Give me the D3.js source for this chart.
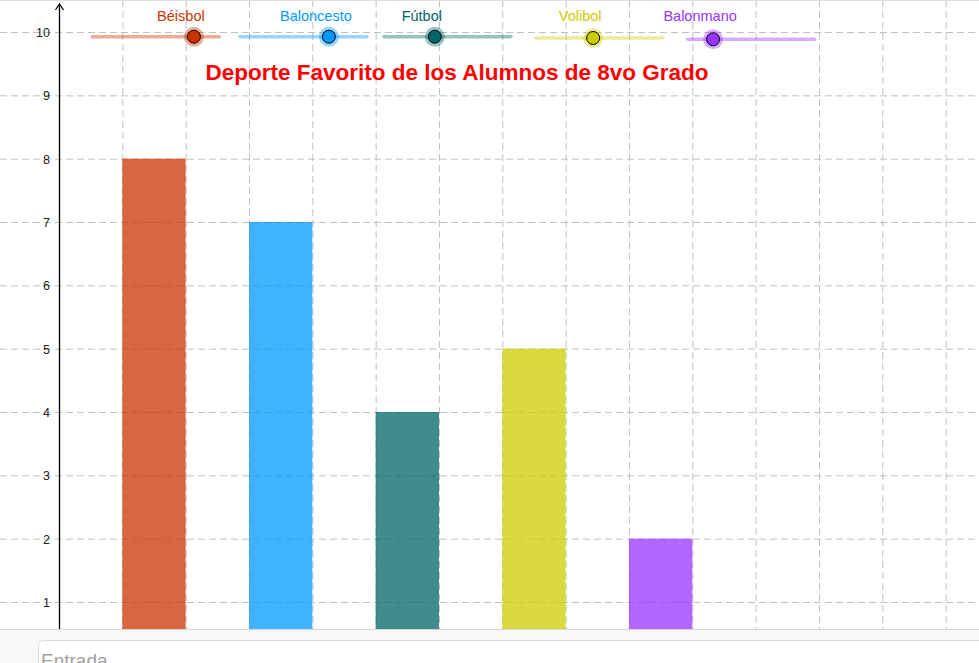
<!DOCTYPE html>
<html>
<head>
<meta charset="utf-8">
<script src="https://cdn.jsdelivr.net/npm/d3@7"></script>
<style>
  html, body { margin: 0; padding: 0; background: #fff; overflow: hidden; }
  svg { display: block; font-family: "Liberation Sans", Arial, sans-serif; }
</style>
</head>
<body>
<div id="chart"></div>
<script>
// data
const sports = ["Béisbol", "Baloncesto", "Fútbol", "Volibol", "Balonmano"];
const votes = [8, 7, 4, 5, 2];
const sliderValues = [8, 7, 4, 4.5, 2];
const colors = ["#cc3300", "#0099ff", "#006666", "#cccc00", "#9933ff"];
const yTicks = [1, 2, 3, 4, 5, 6, 7, 8, 9, 10];
const title = "Deporte Favorito de los Alumnos de 8vo Grado";

const W = 979, H = 663;
const VIEW_BOTTOM = 629;
const UNIT = 63.33;
const ORIGIN = {x: 59, y: 665.3};

// slider placement on screen (GeoGebra sliders are fixed to the screen)
const SLIDER_X = [92.3, 240, 384, 536, 687.7];
const SLIDER_Y = [36.7, 36.7, 36.7, 38, 39.3];
const SLIDER_W = 127;

const svg = d3.select("#chart")
    .append("svg")
        .attr("width", W)
        .attr("height", H);

const x = d3.scaleLinear()
    .domain([0, 1])
    .range([ORIGIN.x, ORIGIN.x + UNIT]);

const y = d3.scaleLinear()
    .domain([0, 1])
    .range([ORIGIN.y, ORIGIN.y - UNIT]);

const view = svg.append("g");

// clip to the graphics view
svg.append("defs").append("clipPath")
    .attr("id", "viewClip")
  .append("rect")
    .attr("x", 0).attr("y", 0)
    .attr("width", W).attr("height", VIEW_BOTTOM);

view.attr("clip-path", "url(#viewClip)");

// grid
const gridX = d3.range(Math.ceil(x.invert(0)), Math.floor(x.invert(W)) + 1).filter(d => d !== 0);
const gridY = d3.range(Math.ceil(y.invert(VIEW_BOTTOM)), Math.floor(y.invert(0)) + 1);

view.append("g")
    .selectAll("line")
    .data(gridX)
    .enter().append("line")
        .attr("x1", d => x(d) + 0.5)
        .attr("x2", d => x(d) + 0.5)
        .attr("y1", 0)
        .attr("y2", VIEW_BOTTOM)
        .attr("stroke", "#c0c0c0")
        .attr("stroke-dasharray", "7,4");

view.append("g")
    .selectAll("line")
    .data(gridY)
    .enter().append("line")
        .attr("x1", 0)
        .attr("x2", W)
        .attr("y1", d => y(d) + 0.5)
        .attr("y2", d => y(d) + 0.5)
        .attr("stroke", "#c0c0c0")
        .attr("stroke-dasharray", "7,4");

// bars: category i sits on [2i+1, 2i+2]
view.append("g")
    .selectAll("rect")
    .data(votes)
    .enter().append("rect")
        .attr("x", (d, i) => x(2 * i + 1))
        .attr("y", d => y(d))
        .attr("width", (d, i) => x(2 * i + 2) - x(2 * i + 1))
        .attr("height", d => y(0) - y(d))
        .attr("fill", (d, i) => colors[i])
        .attr("fill-opacity", 0.75);

// y axis
const axisX = x(0) + 0.5;
view.append("line")
    .attr("x1", axisX).attr("x2", axisX)
    .attr("y1", 4).attr("y2", VIEW_BOTTOM)
    .attr("stroke", "#000")
    .attr("stroke-width", 1.3);

view.append("path")
    .attr("d", `M${axisX - 4},${10} L${axisX},${4} L${axisX + 4},${10}`)
    .attr("fill", "none")
    .attr("stroke", "#000")
    .attr("stroke-width", 1.3);

view.append("g")
    .selectAll("text")
    .data(yTicks)
    .enter().append("text")
        .attr("x", x(0) - 9)
        .attr("y", d => y(d) + 0.5)
        .attr("dy", "0.36em")
        .attr("text-anchor", "end")
        .attr("font-size", "12.5px")
        .attr("fill", "#222")
        .text(d => d);

// title
view.append("text")
    .attr("x", 457)
    .attr("y", 80)
    .attr("text-anchor", "middle")
    .attr("font-size", "22.5px")
    .attr("font-weight", "bold")
    .attr("fill", "#ff0000")
    .text(title);

// sliders
sports.forEach((name, i) => {
    const s = d3.scaleLinear()
        .domain([0, 10])
        .range([SLIDER_X[i], SLIDER_X[i] + SLIDER_W]);
    const sy = SLIDER_Y[i];
    const g = view.append("g");

    g.append("line")
        .attr("x1", s(0)).attr("x2", s(10))
        .attr("y1", sy).attr("y2", sy)
        .attr("stroke", colors[i])
        .attr("stroke-opacity", 0.4)
        .attr("stroke-width", 3.5)
        .attr("stroke-linecap", "round");

    const px = s(sliderValues[i]);
    g.append("circle")
        .attr("cx", px).attr("cy", sy)
        .attr("r", 10)
        .attr("fill", colors[i])
        .attr("fill-opacity", 0.4);

    g.append("circle")
        .attr("cx", px).attr("cy", sy)
        .attr("r", 6.5)
        .attr("fill", colors[i])
        .attr("stroke", "#000")
        .attr("stroke-width", 1);

    g.append("text")
        .attr("x", px - 13)
        .attr("y", 21)
        .attr("text-anchor", "middle")
        .attr("font-size", "14.5px")
        .attr("fill", colors[i])
        .text(name);
});

// frame lines of the app
svg.append("line")
    .attr("x1", 0).attr("x2", W)
    .attr("y1", 0.5).attr("y2", 0.5)
    .attr("stroke", "#dcdcdc");

// input bar
svg.append("rect")
    .attr("x", 0).attr("y", VIEW_BOTTOM)
    .attr("width", W).attr("height", H - VIEW_BOTTOM)
    .attr("fill", "#f8f8f8");

svg.append("line")
    .attr("x1", 0).attr("x2", W)
    .attr("y1", VIEW_BOTTOM + 0.5).attr("y2", VIEW_BOTTOM + 0.5)
    .attr("stroke", "#d6d6d6");

svg.append("rect")
    .attr("x", 38.5).attr("y", 640.5)
    .attr("width", W).attr("height", 60)
    .attr("rx", 5)
    .attr("fill", "#fff")
    .attr("stroke", "#dadada");

svg.append("text")
    .attr("x", 41)
    .attr("y", 667)
    .attr("font-size", "19px")
    .attr("fill", "#a0a0a0")
    .text("Entrada");
</script>
</body>
</html>
